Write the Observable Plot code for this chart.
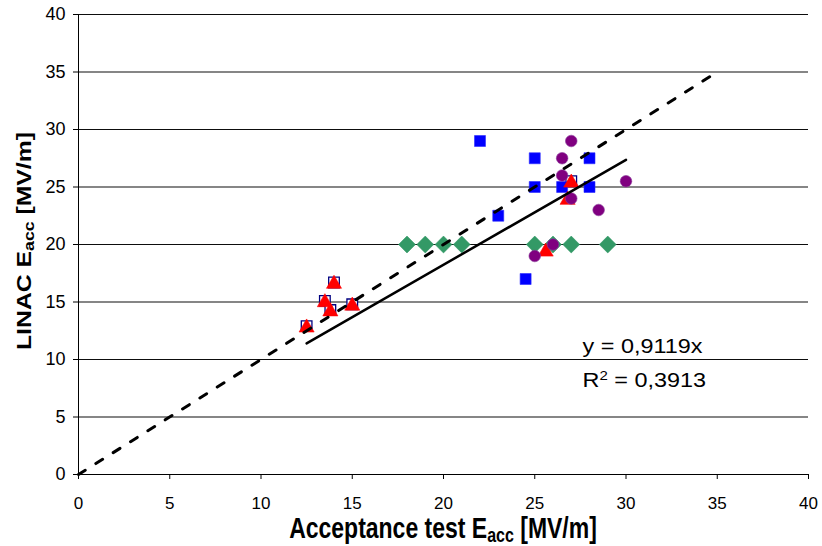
<!DOCTYPE html>
<html><head><meta charset="utf-8">
<script src="https://cdn.jsdelivr.net/npm/d3@7"></script>
<script src="https://cdn.jsdelivr.net/npm/@observablehq/plot@0.6"></script>
<style>body{margin:0;background:#fff} svg{display:block;background:#fff}</style>
</head><body><div id="chart"></div>
<script>
// ---- data ----
const xTicks = [0, 5, 10, 15, 20, 25, 30, 35, 40];
const yTicks = [0, 5, 10, 15, 20, 25, 30, 35, 40];

const blueX = [22, 25, 28, 25, 26.5, 28, 23, 24.5];
const blueY = [29, 27.5, 27.5, 25, 25, 25, 22.5, 17];

const openX = [12.5, 13.5, 13.8, 14, 15, 27];
const openY = [12.9, 15.1, 14.3, 16.7, 14.8, 25.5];

const greenX = [18, 19, 20, 21, 25, 26, 27, 29];
const greenY = [20, 20, 20, 20, 20, 20, 20, 20];

const redX = [12.5, 13.5, 13.8, 14, 15, 25.6, 27, 26.8];
const redY = [12.9, 15.1, 14.3, 16.7, 14.8, 19.5, 25.5, 24];

const purpleX = [27, 26.5, 26.5, 30, 27, 28.5, 26, 25];
const purpleY = [29, 27.5, 26, 25.5, 24, 23, 20, 19];

const fitSlope = 0.9119;
const fitRangeX = [12.5, 30];
const identityRangeX = [0, 35];

const eqLabels = ["y = 0,9119x", "R2 = 0,3913"];
const eqX = [27.62, 27.62];
const eqY = [10.6, 7.57];

const xTitle = ["Acceptance test E", "acc", " [MV/m]"];
const yTitle = ["LINAC E", "acc", " [MV/m]"];

// ---- tables ----
const zip = (xs, ys) => xs.map((x, i) => ({x, y: ys[i]}));
const fitLine = fitRangeX.map(x => ({x, y: fitSlope * x}));
const idLine = identityRangeX.map(x => ({x, y: x}));
const eqData = eqLabels.map((t, i) => ({t, x: eqX[i], y: eqY[i]}));

const svg = Plot.plot({
  width: 822,
  height: 546,
  marginLeft: 78,
  marginRight: 14,
  marginTop: 14,
  marginBottom: 72,
  style: {fontFamily: "Arial, 'Liberation Sans', sans-serif", background: "#fff", color: "#000"},
  x: {domain: [0, 40]},
  y: {domain: [0, 40]},
  marks: [
    Plot.gridY(yTicks.slice(1), {stroke: "#000", strokeOpacity: 0.95, strokeWidth: 1}),
    Plot.ruleX([0], {stroke: "#000"}),
    Plot.ruleY([0], {stroke: "#000"}),
    Plot.axisX({ticks: xTicks, tickSize: 5, tickPadding: 17, fontSize: 17, label: null, tickFormat: d => String(d)}),
    Plot.axisY({ticks: yTicks, tickSize: 5, tickPadding: 8, fontSize: 18, label: null, tickFormat: d => String(d)}),
    Plot.dot(zip(openX, openY), {x: "x", y: "y", symbol: "square", r: 6, fill: "#fff", stroke: "#000080", strokeWidth: 1.3}),
    Plot.dot(zip(blueX, blueY), {x: "x", y: "y", symbol: "square", r: 6.2, fill: "#0000ff", stroke: "#2a2aff", strokeWidth: 0.6}),
    Plot.dot(zip(greenX, greenY), {x: "x", y: "y", symbol: "diamond2", r: 7.6, fill: "#339966", stroke: "#339966", strokeWidth: 0.6}),
    Plot.dot(zip(redX, redY), {x: "x", y: "y", symbol: "triangle", r: 5.6, dy: 1.5, fill: "#ff0000", stroke: "#ff0000", strokeWidth: 0.6}),
    Plot.dot(zip(purpleX, purpleY), {x: "x", y: "y", symbol: "circle", r: 5.8, fill: "#800080", stroke: "#8a3a9a", strokeWidth: 0.6}),
    Plot.line(idLine, {x: "x", y: "y", stroke: "#000", strokeWidth: 3, strokeDasharray: "8,12.5"}),
    Plot.line(fitLine, {x: "x", y: "y", stroke: "#000", strokeWidth: 2.5}),
    Plot.text(eqData, {x: "x", y: "y", text: "t", textAnchor: "start", lineAnchor: "bottom", fontSize: 19.5, fill: "#000", className: "eq"})
  ]
});

// stretch equation texts horizontally; make the "2" in R2 a superscript
d3.select(svg).selectAll(".eq text").each(function() {
  const el = d3.select(this);
  const tx = +el.attr("x") || 0, ty = +el.attr("y") || 0;
  const prev = el.attr("transform") || "";
  el.attr("x", null).attr("y", null)
    .attr("transform", `${prev} translate(${tx},${ty}) scale(1.2,1)`);
  const t = el.text();
  if (t.startsWith("R2")) {
    el.text(null);
    el.append("tspan").text("R");
    el.append("tspan").attr("font-size", 12.5).attr("dy", -7).text("2");
    el.append("tspan").attr("dy", 7).text(t.slice(2));
  }
});

const s = d3.select(svg);
// x-axis title
const xt = s.append("text")
  .attr("transform", "translate(443,538) scale(1,1.25)")
  .attr("text-anchor", "middle")
  .attr("font-weight", "bold")
  .attr("font-size", 23)
  .attr("fill", "#000");
xt.append("tspan").text(xTitle[0]);
xt.append("tspan").attr("font-size", 16).attr("dy", 3.5).text(xTitle[1]);
xt.append("tspan").attr("dy", -3.5).text(xTitle[2]);

// y-axis title
const yt = s.append("text")
  .attr("transform", "translate(31,241) rotate(-90) scale(1.18,1)")
  .attr("text-anchor", "middle")
  .attr("font-weight", "bold")
  .attr("font-size", 21)
  .attr("fill", "#000");
yt.append("tspan").text(yTitle[0]);
yt.append("tspan").attr("font-size", 15).attr("dy", 3).text(yTitle[1]);
yt.append("tspan").attr("dy", -3).text(yTitle[2]);

document.getElementById("chart").appendChild(svg);
</script>
</body></html>
